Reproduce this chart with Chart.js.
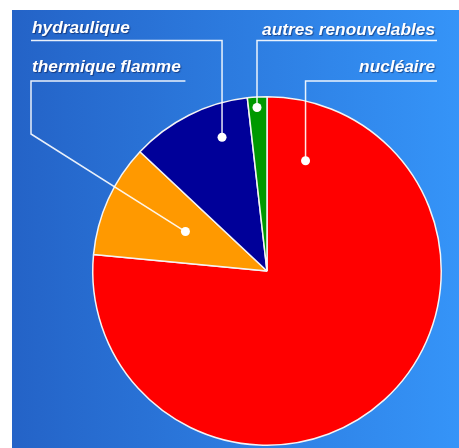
<!DOCTYPE html>
<html lang="fr">
<head>
<meta charset="utf-8">
<title>Production d'électricité</title>
<script src="https://cdn.jsdelivr.net/npm/chart.js@4.4.1/dist/chart.umd.min.js"></script>
<style>
    html, body { margin: 0; padding: 0; background: #fff; }
    canvas { display: block; }
</style>
</head>
<body>
<canvas id="mix-chart" width="459" height="448"></canvas>
<script>
    "use strict";

    const sources = ['nucléaire', 'thermique flamme', 'hydraulique', 'autres renouvelables'];
    const shares = [76.5, 10.5, 11.2, 1.8];
    const sliceColors = ['#ff0000', '#ff9900', '#000099', '#009900'];
    // where each leader dot sits inside its slice: share of the sweep, share of the radius
    const dotAlong = [0.07, 0.54, 0.70, 0.46];
    const dotRadius = [0.67, 0.52, 0.81, 0.94];

    // label boxes (text anchor, baseline, underline)
    const labelLayout = [
        {align: 'right', x: 435, y: 72, rule: 81, edge: 437},
        {align: 'left', x: 32, y: 72, rule: 81, edge: 31, bendY: 134},
        {align: 'left', x: 32, y: 33, rule: 40.5, edge: 31},
        {align: 'right', x: 435, y: 35, rule: 40.5, edge: 437}
    ];

    const backdrop = {
        id: 'backdrop',
        beforeDraw(chart) {
            const ctx = chart.ctx;
            const grad = ctx.createLinearGradient(12, 0, chart.width, 0);
            grad.addColorStop(0, '#2463c7');
            grad.addColorStop(1, '#3594f8');
            ctx.save();
            ctx.fillStyle = grad;
            ctx.fillRect(12, 10, chart.width - 12, chart.height - 10);
            ctx.restore();
        }
    };

    const leaders = {
        id: 'leaders',
        afterDatasetsDraw(chart) {
            const ctx = chart.ctx;
            const arcs = chart.getDatasetMeta(0).data;
            ctx.save();
            arcs.forEach(function(arc, i) {
                const lay = labelLayout[i];
                const a = arc.startAngle + dotAlong[i] * (arc.endAngle - arc.startAngle);
                const r = arc.outerRadius * dotRadius[i];
                const px = arc.x + Math.cos(a) * r;
                const py = arc.y + Math.sin(a) * r;

                ctx.strokeStyle = 'rgba(255,255,255,0.9)';
                ctx.lineWidth = 1.5;
                ctx.beginPath();
                if (lay.bendY) {
                    ctx.moveTo(px, lay.rule);
                    ctx.lineTo(lay.edge, lay.rule);
                    ctx.lineTo(lay.edge, lay.bendY);
                    ctx.lineTo(px, py);
                } else {
                    ctx.moveTo(lay.edge, lay.rule);
                    ctx.lineTo(px, lay.rule);
                    ctx.lineTo(px, py);
                }
                ctx.stroke();

                ctx.fillStyle = '#fff';
                ctx.beginPath();
                ctx.arc(px, py, 4.5, 0, Math.PI * 2);
                ctx.fill();

                ctx.font = 'italic bold 17.3px "Liberation Sans", Arial, sans-serif';
                ctx.textAlign = lay.align;
                ctx.textBaseline = 'alphabetic';
                ctx.shadowColor = 'rgba(0,0,40,0.45)';
                ctx.shadowOffsetX = 1;
                ctx.shadowOffsetY = 1;
                ctx.shadowBlur = 1;
                ctx.fillText(sources[i], lay.x, lay.y);
                ctx.shadowColor = 'transparent';
            });
            ctx.restore();
        }
    };

    new Chart(document.getElementById('mix-chart'), {
        type: 'pie',
        data: {
            labels: sources,
            datasets: [{
                data: shares,
                backgroundColor: sliceColors,
                borderColor: '#f4f4f4',
                borderWidth: 1.5
            }]
        },
        options: {
            responsive: false,
            animation: false,
            events: [],
            layout: {
                padding: {left: 92, right: 17, top: 96, bottom: 2}
            },
            plugins: {
                legend: {display: false},
                tooltip: {enabled: false}
            }
        },
        plugins: [backdrop, leaders]
    });
</script>
</body>
</html>
